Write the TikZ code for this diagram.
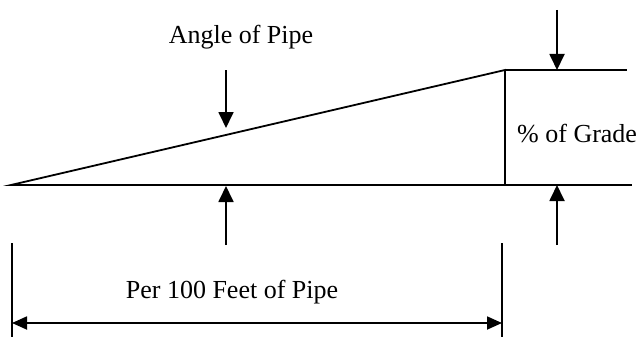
\documentclass[tikz,border=0pt]{standalone}
\usepackage{fontspec}
\setmainfont{Liberation Serif}
\usetikzlibrary{arrows.meta}
\begin{document}
\begin{tikzpicture}[x=1pt,y=-1pt,
  ln/.style={line width=1.8pt,line cap=butt},
  arr/.style={ln,-{Triangle[length=16pt,width=15pt]}},
  darr/.style={ln,{Triangle[length=15pt,width=13pt]}-{Triangle[length=15pt,width=13pt]}},
  lbl/.style={inner sep=0pt,anchor=base,font=\fontsize{26}{31}\selectfont}]
\useasboundingbox (0,0) rectangle (642,337);
% triangle
\coordinate (L) at (11,185);
\coordinate (BR) at (505,185);
\coordinate (TR) at (505,70);
\draw[ln,line join=miter] (L) -- (BR) -- (TR) -- cycle;
% extension lines on the right
\coordinate (TE) at (627,70);
\coordinate (BE) at (632,185);
\draw[ln] (TR) -- (TE);
\draw[ln] (BR) -- (BE);
% grade arrows
\coordinate (g1s) at (557,10);
\coordinate (g1e) at (557,70);
\coordinate (g2s) at (557,245);
\coordinate (g2e) at (557,185);
\draw[arr] (g1s) -- (g1e);
\draw[arr] (g2s) -- (g2e);
% angle arrows
\coordinate (a1s) at (226,70);
\coordinate (a1e) at (226,128);
\coordinate (a2s) at (226,245);
\coordinate (a2e) at (226,186);
\draw[arr] (a1s) -- (a1e);
\draw[arr] (a2s) -- (a2e);
% dimension
\coordinate (d1t) at (12,243);
\coordinate (d1b) at (12,337);
\coordinate (d2t) at (502,243);
\coordinate (d2b) at (502,337);
\draw[ln] (d1t) -- (d1b);
\draw[ln] (d2t) -- (d2b);
\coordinate (h1) at (12,323);
\coordinate (h2) at (502,323);
\draw[darr] (h1) -- (h2);
% labels
\node[lbl] (angle) at (241,44) {Angle of Pipe};
\node[lbl,anchor=base west] (grade) at (517,142) {\% of Grade};
\node[lbl] (per) at (232,298) {Per 100 Feet of Pipe};
\end{tikzpicture}
\end{document}
